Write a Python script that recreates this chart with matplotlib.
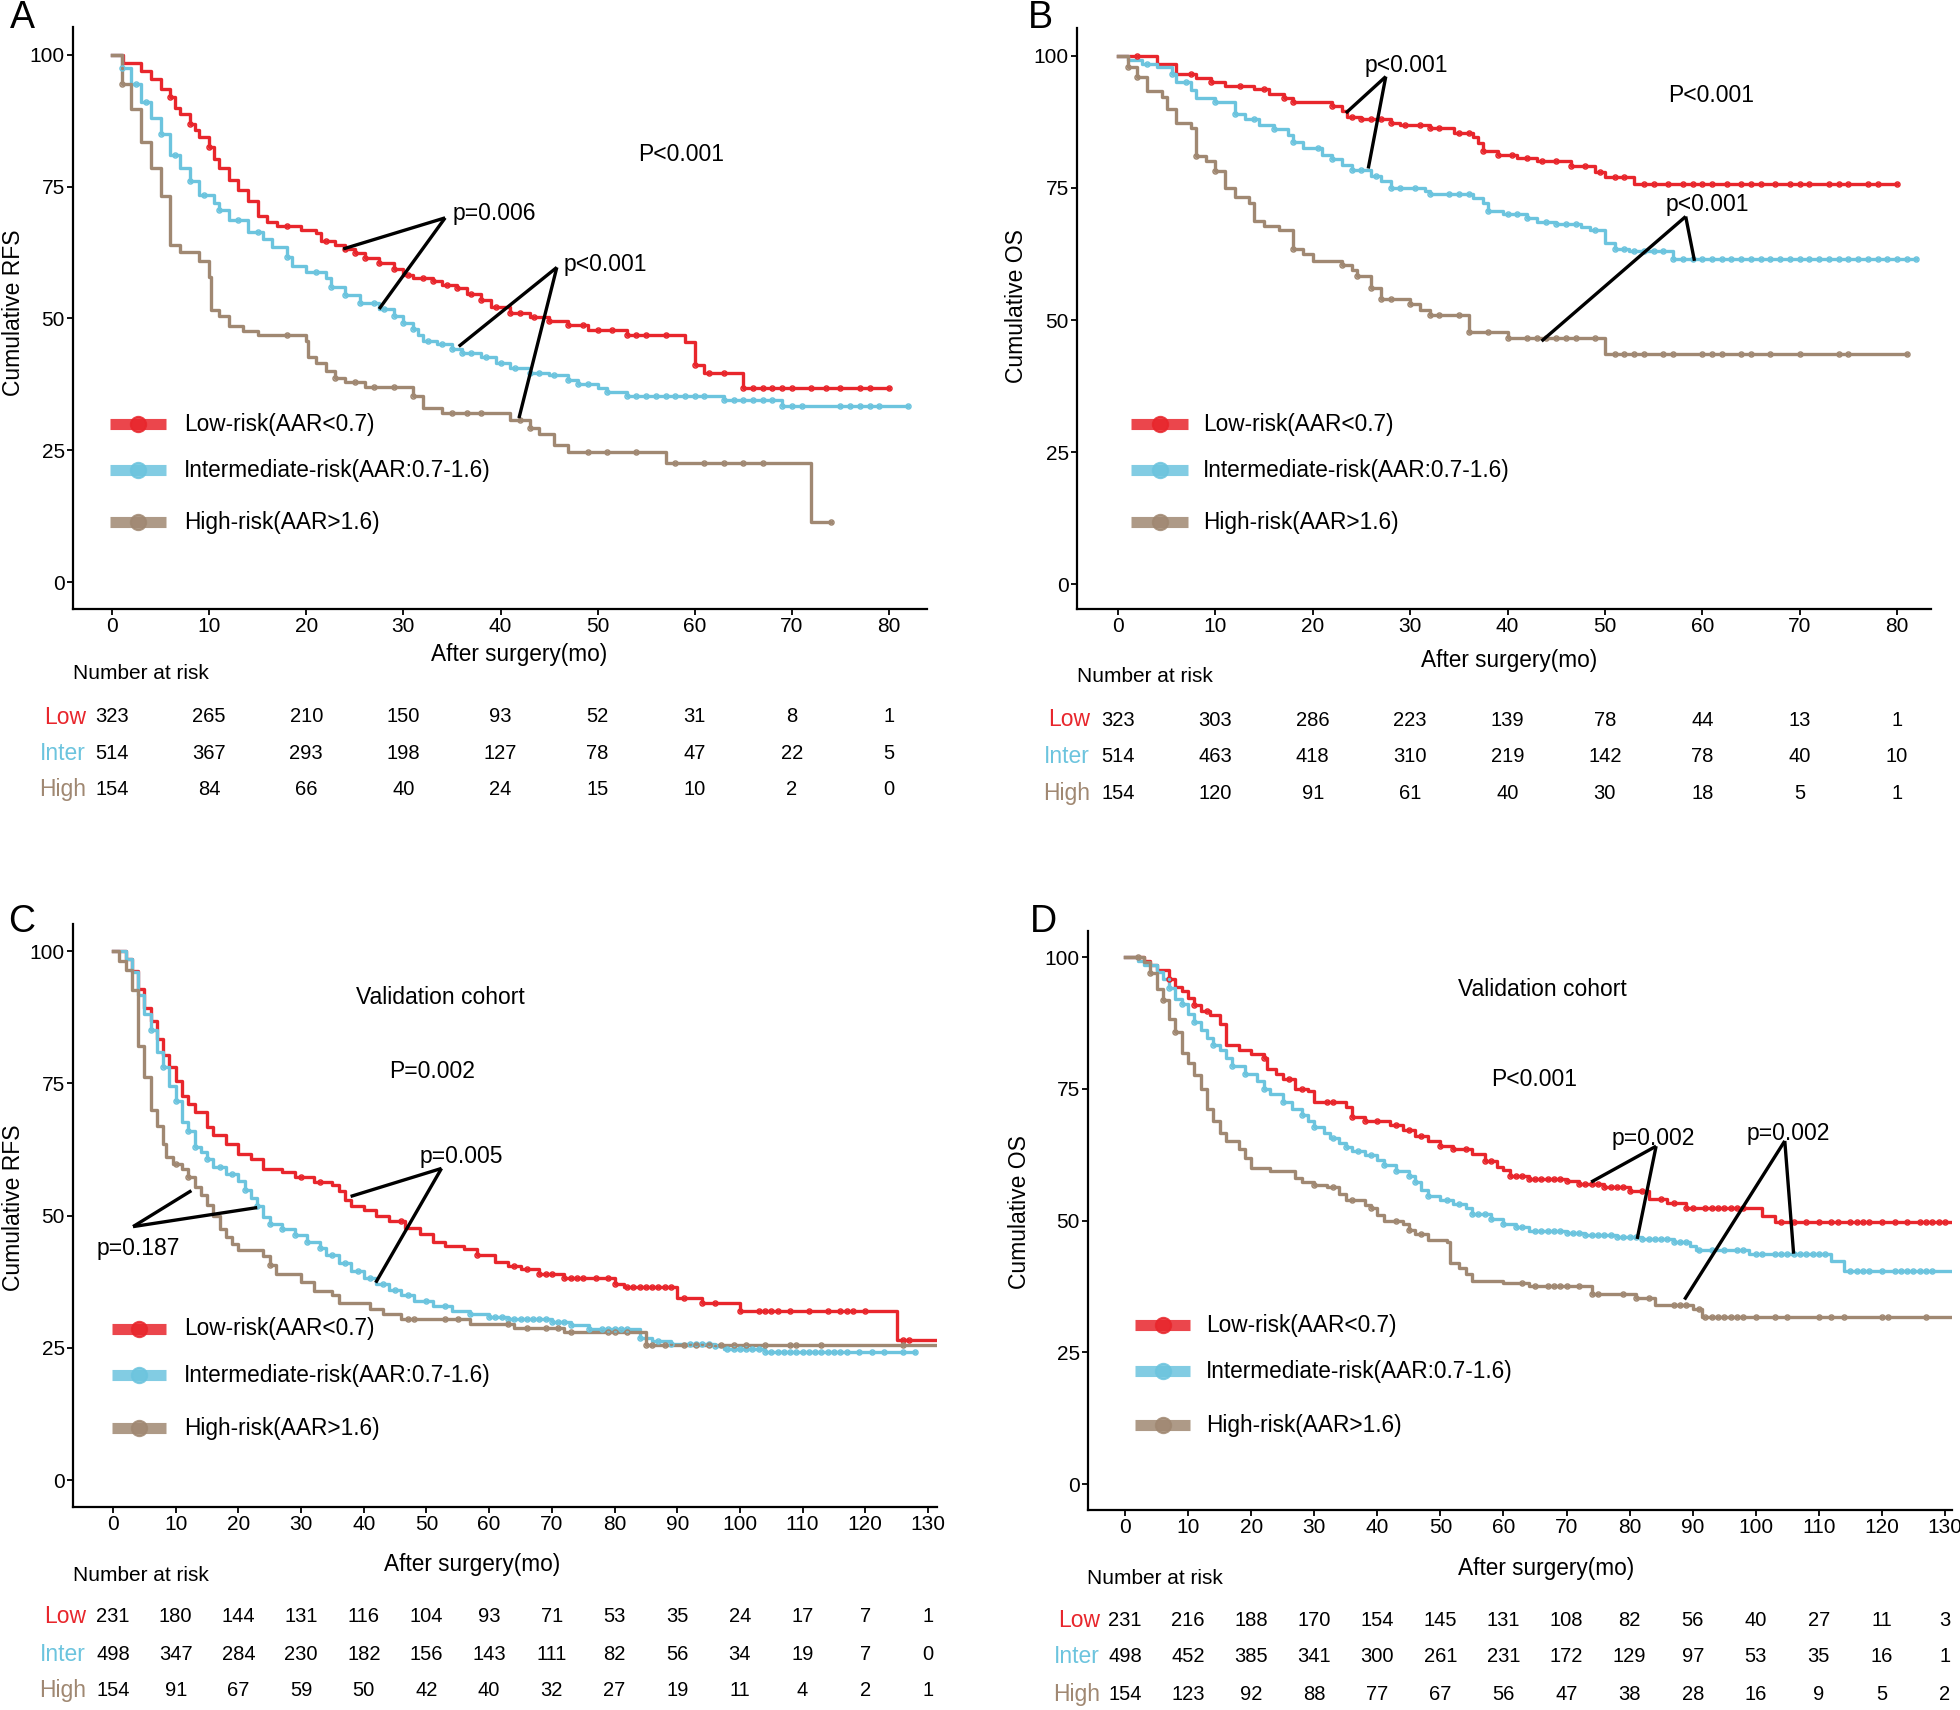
import numpy as np
import matplotlib
matplotlib.use('Agg')
import matplotlib.pyplot as plt
import matplotlib.transforms as mtransforms
from matplotlib.lines import Line2D

plt.rcParams['font.family'] = ['Liberation Sans', 'DejaVu Sans']

# ---------------- data ----------------
groups = ['Low', 'Inter', 'High']
legend_labels = ['Low-risk(AAR<0.7)', 'Intermediate-risk(AAR:0.7-1.6)', 'High-risk(AAR>1.6)']

# Panel A: RFS, training cohort
A_low_t = [0, 1.1, 3, 4, 5, 6, 6.5, 7, 8, 8.5, 9, 10, 10.5, 11, 12, 13, 14, 15, 16, 17, 19.5, 21, 21.5, 23, 24, 25, 26, 27.5, 29, 30,
           31, 33, 34, 35.5, 36.5, 38, 39, 41, 43, 45, 47, 49, 53, 59, 60, 61, 65]
A_low_s = [100, 98.5, 97, 95.5, 93.5, 92, 90, 88.8, 87, 85.7, 84.5, 82.5, 80.3, 78.6, 76.2, 74.3, 72.3, 69.5, 68.3, 67.6,
           66.8, 66.2, 64.8, 64, 63.2, 62.4, 61.4, 60.5, 59.3, 58.3, 57.7, 57.2, 56.4, 55.7, 54.6, 53.5, 52.2, 51, 50.2, 49.6,
           48.7, 47.9, 46.9, 45.5, 41.2, 39.6, 36.9]
A_low_end = 80
A_low_cens = [6, 8, 10, 18, 22, 24, 25, 26, 27.5, 29, 30.5, 32, 33, 34.5, 35.5, 37, 38, 39.5, 41, 42, 43.5, 45, 47, 48.5, 50,
              51.5, 53, 54, 55, 57, 60, 61.5, 63, 65, 66, 67, 68, 69, 70, 72, 73.5, 75, 77, 78, 80]
A_int_t = [0, 1, 2, 3, 4, 5, 6, 7, 8, 9, 10.5, 11, 12, 14, 15.5, 16.5, 18, 18.5, 20, 22, 22.5, 24, 25.5, 27.5, 29, 30, 31,
           31.5, 32, 33.5, 35, 36, 38, 39.5, 41, 43, 45, 47, 48, 50, 51, 53, 63, 69]
A_int_s = [100, 97.5, 94.5, 91, 88, 85, 81, 78.5, 76, 73.5, 72, 70.5, 68.7, 66.5, 65, 63.5, 61.7, 60, 58.8, 57.6, 56, 54.5, 53,
           51.8, 50.5, 49.2, 48, 46.8, 45.8, 45.2, 44.3, 43.4, 42.6, 41.6, 40.6, 39.7, 39.2, 38.4, 37.6, 36.9, 36.1, 35.3, 34.6, 33.4]
A_int_end = 82
A_int_cens = [1, 2.5, 3.5, 5, 6.5, 8, 9.5, 11, 13, 15, 18, 21, 22.5, 24, 25.5, 27, 28, 29, 30, 31, 32.5, 34, 35, 36, 37, 38.5,
              40, 41.5, 43, 44, 45.5, 47, 48, 49, 51, 53, 54, 55, 56, 57, 58, 59, 60, 61, 63, 64, 65, 66, 67, 68, 69, 70,
              71, 75, 76, 77, 78, 79, 82]
A_high_t = [0, 1, 2, 3, 4, 5, 6, 7, 9, 10, 10.2, 11, 12, 13.5, 15, 20, 20.2, 21, 22, 23, 24, 26, 31, 32, 34, 41, 43, 44, 45.5,
            47, 57, 72]
A_high_s = [100, 94.5, 89.8, 83.5, 78.5, 73.2, 64, 62.6, 61, 57.8, 51.7, 50.4, 48.5, 47.6, 46.8, 45.8, 42.6, 41.5, 40, 38.8,
            37.9, 37, 35.2, 33.1, 32, 30.8, 29.3, 28, 26, 24.6, 22.5, 11.3]
A_high_end = 74
A_high_cens = [1, 18, 23, 25, 27, 29, 31, 35, 36.5, 38, 42, 43, 49, 51, 54, 58, 61, 63, 65, 67, 74]

# Panel B: OS, training cohort
B_low_t = [0, 4, 6, 8, 9.5, 11, 14, 15.5, 17, 18, 22, 23, 23.5, 25, 28, 29, 32, 34.5, 36.5, 37, 37.5, 39, 41, 43, 46.5, 49,
           50, 53]
B_low_s = [100, 98.5, 96.5, 95.8, 95, 94.3, 93.7, 92.8, 92, 91.3, 90.5, 89.5, 88.4, 88, 87.4, 86.9, 86.4, 85.5, 84.7, 83.5,
           82, 81.3, 80.6, 80.2, 79.2, 78, 77, 75.8]
B_low_end = 80
B_low_cens = [2, 7.5, 9.5, 12.5, 15, 17, 18, 22, 24, 25, 26, 27, 28, 29.5, 31, 32, 33, 35, 36, 37.5, 39, 40.5, 42, 43.5, 45,
              46.5, 48, 49.5, 51, 52, 54, 55, 56.5, 58, 59, 60, 61, 62.5, 64, 65, 66, 67.5, 69, 70, 71, 73, 74, 75, 77, 78, 80]
B_int_t = [0, 1, 2.5, 4, 5.5, 6, 7.5, 8, 10, 12, 13, 14.5, 16, 17.5, 18, 19, 21, 22, 23, 24, 26, 27, 28, 31.5, 32, 36.5,
           37.5, 38, 39.5, 42, 43, 45, 47.5, 48.5, 50, 51, 52.5, 57]
B_int_s = [100, 99.3, 98.5, 97.9, 96.5, 95, 93.6, 92, 91.3, 89, 88, 87, 86.2, 85, 83.7, 82.6, 81.3, 80.5, 79.4, 78.4, 77.3,
           76.3, 75, 74.4, 73.8, 73.2, 72.2, 70.6, 70, 69.3, 68.6, 68.2, 67.7, 67.1, 64.5, 63.5, 63.1, 61.6]
B_int_end = 82
B_int_cens = [3, 5.5, 7, 10, 12, 14, 16, 18, 20.5, 22, 24, 25, 26.5, 28, 29, 30.5, 32, 34, 35, 36, 38, 40, 41, 42, 44, 45,
              46, 47, 49, 51, 52, 53, 54, 55, 56, 57, 58, 59, 60, 61, 62, 63, 64, 65, 66, 67, 68, 69, 70, 71, 72, 73, 74, 75,
              76, 77, 78, 79, 80, 81, 82]
B_high_t = [0, 1, 2, 3, 4.5, 5, 6, 7.5, 8, 9, 10, 11, 12, 13.5, 14, 15, 16.5, 18, 19, 20, 23, 24, 24.5, 26, 27, 30, 31, 32,
            36, 40, 50]
B_high_s = [100, 98, 96, 93.4, 92.2, 90, 87.3, 86.3, 81, 80.1, 78.2, 75, 73.3, 72.2, 68.7, 67.8, 67.1, 63.4, 62.5, 61.2,
            60.4, 59.4, 58.4, 56.1, 54, 53, 51.8, 51, 47.8, 46.5, 43.5]
B_high_end = 81
B_high_cens = [1, 2, 8, 10, 18, 23, 24.5, 26, 27, 28, 30, 32, 33, 35, 36, 38, 40, 42, 43, 44, 45, 46, 47, 49, 51, 52, 53, 54,
               56, 57, 60, 61, 62, 64, 65, 67, 70, 74, 75, 81]

# Panel C: RFS, validation cohort
C_low_t = [0, 2, 3, 4, 5, 6, 7, 8, 9, 10, 11, 12, 13, 15, 16, 18, 20, 22, 24, 27, 29, 32, 35, 36, 37, 38, 40, 42, 44, 46.5,
           49, 51, 53, 56, 58, 61, 63, 65, 68, 72, 80, 81.5, 90, 94, 100, 125]
C_low_s = [100, 98.4, 96.3, 92.9, 89.2, 86.8, 83.3, 80.4, 78, 75.5, 72.5, 71.1, 69.6, 66.7, 65.3, 63.5, 61.6, 60.6, 58.7,
           58.2, 57.2, 56.4, 55.7, 54.7, 53, 51.8, 51, 50, 48.9, 47.7, 46.5, 45, 44.3, 43.6, 42.6, 41.2, 40.5, 39.9, 39, 38.1,
           37.1, 36.5, 34.4, 33.4, 31.9, 26.5]
C_low_end = 131.5
C_low_cens = [30, 33, 46, 58, 64, 66, 68, 69, 70, 72, 73, 74, 75, 77, 79, 80, 82, 83, 84, 85, 86, 87, 88, 89, 91, 94, 96,
              100, 103, 104, 105, 106, 108, 111, 114, 116, 117, 118, 120, 126, 127]
C_int_t = [0, 2, 3, 4, 5, 6, 7, 8, 9, 10, 11, 12, 13, 14, 15, 16, 18, 20, 21, 22, 23, 24, 25, 27, 29, 31, 33, 34, 36, 38, 40,
           42, 44, 46, 48, 51, 54, 57, 60, 63, 70, 73, 76, 84, 86, 89, 96, 97.5, 104]
C_int_s = [100, 98.5, 96, 91.7, 88, 85, 81, 78, 74.5, 71.6, 67.6, 65.9, 63, 62, 60.6, 59.1, 57.9, 56.5, 54.9, 53.3, 51.8,
           49.8, 48.4, 47.4, 46.4, 44.9, 43.9, 42.5, 41, 39.6, 38.2, 37, 36, 35, 33.8, 32.8, 32, 31.4, 30.8, 30.4, 29.8, 29.3,
           28.5, 26.9, 26.2, 25.7, 25.3, 24.8, 24.2]
C_int_end = 128
C_int_cens = [6, 8, 10, 12, 13, 15, 17, 19, 21, 23, 25, 27, 29, 31, 33, 35, 37, 39, 41, 43, 45, 47, 50, 53, 57, 60, 61, 62,
              63, 64, 65, 66, 67, 68, 69, 70, 71, 72, 73, 76, 78, 79, 80, 81, 82, 84, 87, 89, 92, 93, 94, 95, 96, 98, 99, 100,
              101, 102, 103, 104, 105, 106, 107, 108, 109, 110, 111, 112, 113, 114, 115, 116, 117, 119, 121, 123, 126, 128]
C_high_t = [0, 1, 2, 3, 4, 5, 6, 7, 8, 8.5, 9.5, 11, 12, 13, 14, 15, 16, 17, 18, 19, 20, 24, 25, 26, 30, 32, 35, 36, 41, 43,
            46, 57, 64, 72, 85]
C_high_s = [100, 98.2, 96.5, 92.7, 82.1, 76.2, 70, 67, 63.5, 61.1, 59.7, 58.7, 57.3, 55.3, 53.8, 52, 49.9, 47.4, 45.9, 44.7,
            43.5, 42.3, 40.6, 38.9, 37.4, 35.7, 35, 33.4, 32.3, 31.3, 30.5, 29.5, 28.8, 28, 25.6]
C_high_end = 131.5
C_high_cens = [10, 12, 25, 47, 48, 53, 55, 63, 66, 69, 71, 73, 79, 80, 82, 85, 86, 88, 91, 93, 95, 97, 99, 101, 104, 108,
               109, 113, 126]

# Panel D: OS, validation cohort
D_low_t = [0, 3, 4, 5, 7, 8, 9, 10, 11, 12, 13.5, 15, 16, 18, 20, 22, 22.5, 24, 25, 27, 29, 30, 35, 36, 38, 42, 44, 46, 48,
           50, 52, 55, 57, 59, 60, 61, 64, 70, 72, 76, 80, 83, 86, 89, 101, 103]
D_low_s = [100, 99.3, 98.5, 97.6, 95.8, 94.3, 93.5, 92.3, 90.8, 89.8, 89, 87.2, 83.3, 82.3, 81.6, 80.8, 78.8, 77.8, 76.9, 75,
           74.5, 72.5, 71.5, 69.7, 68.8, 68.1, 67.1, 66.1, 65.1, 64.1, 63.5, 62.7, 61.2, 60.2, 59.5, 58.5, 57.9, 57.5, 57,
           56.3, 55.6, 54, 53.3, 52.4, 50.9, 49.7]
D_low_end = 132
D_low_cens = [7, 11, 13, 22, 26, 28, 32, 33, 36, 38, 40, 43, 45, 47, 50, 52, 54, 57, 58, 61, 62, 63, 64, 65, 66, 67, 68, 69,
              70, 72, 73, 74, 75, 76, 77, 78, 79, 80, 82, 85, 87, 89, 90, 92, 93, 94, 95, 96, 97, 98, 104, 106, 108, 110, 112,
              113, 115, 116, 117, 118, 120, 122, 124, 126, 127, 128, 129, 130]
D_int_t = [0, 2, 3, 5, 6, 7, 8, 9, 10, 11, 12, 13, 14, 15, 16, 17, 19, 21, 22, 23, 25, 26.5, 28, 29, 30, 31.5, 32.5, 34, 35,
           36, 38, 40, 41, 43, 45, 46, 47, 48, 50, 52, 54, 55, 58, 60, 62, 64, 70, 73, 78, 82, 87, 89.5, 90.5, 99, 112, 114]
D_int_s = [100, 99.2, 98.5, 97.1, 95.9, 94.1, 92.1, 91, 89.2, 87.7, 86.2, 84.7, 83.3, 82.3, 80.8, 79.4, 77.8, 76.4, 75, 74,
           72.5, 71.2, 70, 68.8, 67.8, 66.6, 65.6, 64.8, 63.9, 63.2, 62.5, 61.5, 60.5, 59.4, 58.5, 57.3, 55.8, 54.6, 53.8,
           53.1, 52.3, 51.3, 50.3, 49.3, 48.7, 48.1, 47.7, 47.2, 46.8, 46.4, 45.9, 45.1, 44.4, 43.7, 42.4, 40.4]
D_int_end = 132
D_int_cens = [7, 9, 11, 14, 17, 19, 22, 25, 28, 30, 33, 35, 37, 39, 41, 43, 45, 46, 48, 51, 53, 55, 56, 57, 58, 60, 62, 63,
              65, 66, 67, 68, 69, 70, 71, 72, 73, 74, 75, 76, 77, 78, 79, 80, 81, 82, 83, 84, 85, 86, 87, 88, 89, 91, 93, 95,
              97, 98, 100, 101, 103, 104, 105, 106, 107, 108, 109, 110, 111, 115, 116, 117, 118, 120, 122, 123, 124, 125,
              126, 127, 128]
D_high_t = [0, 3, 4, 5, 6, 7, 8, 9, 10, 11, 12, 13, 14, 15, 16, 18, 19, 20, 23, 27, 28, 30, 32, 34, 35, 38, 39, 40, 41, 44,
            45, 46, 48, 51, 51.5, 53, 54, 55, 60, 64, 74, 81, 84, 90, 91.5]
D_high_s = [100, 99, 97, 94, 91.8, 88.2, 85.8, 81.8, 79.9, 77.6, 75, 71.1, 68.8, 66.6, 65.1, 63.6, 61.9, 59.9, 59.3, 58,
            57.3, 56.8, 56.3, 55.1, 53.8, 53, 52.4, 51.1, 49.9, 49.4, 48.2, 47.4, 46.3, 46, 42, 40.9, 39.9, 38.6, 38.1, 37.6,
            36, 35.2, 34, 33.2, 31.7]
D_high_end = 132
D_high_cens = [2, 4, 6, 8, 30, 33, 36, 39, 43, 45, 47, 63, 65, 67, 68, 69, 70, 72, 74, 75, 79, 81, 83, 87, 88, 89, 91, 92,
               93, 94, 95, 96, 97, 98, 100, 103, 105, 110, 112, 114, 120, 121, 127]

# numbers at risk
A_risk = [[323, 265, 210, 150, 93, 52, 31, 8, 1],
          [514, 367, 293, 198, 127, 78, 47, 22, 5],
          [154, 84, 66, 40, 24, 15, 10, 2, 0]]
B_risk = [[323, 303, 286, 223, 139, 78, 44, 13, 1],
          [514, 463, 418, 310, 219, 142, 78, 40, 10],
          [154, 120, 91, 61, 40, 30, 18, 5, 1]]
C_risk = [[231, 180, 144, 131, 116, 104, 93, 71, 53, 35, 24, 17, 7, 1],
          [498, 347, 284, 230, 182, 156, 143, 111, 82, 56, 34, 19, 7, 0],
          [154, 91, 67, 59, 50, 42, 40, 32, 27, 19, 11, 4, 2, 1]]
D_risk = [[231, 216, 188, 170, 154, 145, 131, 108, 82, 56, 40, 27, 11, 3],
          [498, 452, 385, 341, 300, 261, 231, 172, 129, 97, 53, 35, 16, 1],
          [154, 123, 92, 88, 77, 67, 56, 47, 38, 28, 16, 9, 5, 2]]
ticks_80 = list(range(0, 81, 10))
ticks_130 = list(range(0, 131, 10))

# annotation texts: (text, x, y, ha) and bracket lines: (apex, [ends])
A_texts = [('P<0.001', 58.6, 81.2, 'center'), ('p=0.006', 35.1, 70, 'left'), ('p<0.001', 46.5, 60.2, 'left')]
A_brackets = [((34.3, 69.1), [(23.8, 63.2), (27.5, 51.8)]), ((45.8, 59.7), [(35.7, 44.7), (41.9, 31.1)])]
B_texts = [('P<0.001', 60.9, 92.5, 'center'), ('p<0.001', 25.3, 98.2, 'left'), ('p<0.001', 56.2, 71.8, 'left')]
B_brackets = [((27.5, 96.1), [(23.4, 89.2), (25.7, 78.7)]), ((58.3, 69.6), [(43.5, 46), (59.2, 61.2)])]
C_texts = [('Validation cohort', 52.2, 91.2, 'center'), ('P=0.002', 50.9, 77.2, 'center'),
           ('p=0.005', 48.9, 61.1, 'left'), ('p=0.187', -2.7, 43.8, 'left')]
C_brackets = [((52.4, 58.9), [(37.9, 53.6), (41.9, 37.3)]), ((3.2, 47.9), [(12.5, 54.7), (23, 51.5)])]
D_texts = [('Validation cohort', 66.1, 93.9, 'center'), ('P<0.001', 64.9, 76.7, 'center'),
           ('p=0.002', 77.2, 65.6, 'left'), ('p=0.002', 98.6, 66.6, 'left')]
D_brackets = [((84.2, 64.1), [(73.9, 57.3), (81.2, 46.5)]), ((104.6, 65.1), [(88.7, 35), (106, 43.7)])]

# ---------------- styling / layout ----------------
colors = ['#E8262C', '#6CC4DE', '#A08872']
W, H = 1960, 1710
fig = plt.figure(figsize=(W / 100, H / 100), dpi=100)


def fx(px):
    return px / W


def fy(py):
    return 1 - py / H


def make_axes(box, xref, yref):
    # box = (left, top, right, bottom) px; xref = (px at 0, px at tmax, tmax); yref = (px at 100, px at 0)
    l, t, r, b = box
    x0, x1, tmax = xref
    ppx = (x1 - x0) / tmax
    y100, y0 = yref
    ppy = (y0 - y100) / 100
    ax = fig.add_axes([fx(l), fy(b), (r - l) / W, (b - t) / H])
    ax.set_xlim((l - x0) / ppx, (r - x0) / ppx)
    ax.set_ylim(-(b - y0) / ppy, 100 + (y100 - t) / ppy)
    for s in ['top', 'right']:
        ax.spines[s].set_visible(False)
    for s in ['left', 'bottom']:
        ax.spines[s].set_linewidth(1.6)
    ax.tick_params(length=4, width=1.3, labelsize=15, pad=2)
    ax.set_yticks([0, 25, 50, 75, 100])
    return ax


def km(ax, t, s, end, cens, c):
    t = np.asarray(t, float)
    s = np.asarray(s, float)
    ax.step(np.append(t, end), np.append(s, s[-1]), where='post', color=c, lw=2.4, zorder=3)
    cens = np.asarray(cens, float)
    idx = np.searchsorted(t, cens, side='right') - 1
    ax.plot(cens, s[idx], 'o', ms=3.6, mfc='none', mec=c, mew=1.1, zorder=4)


def annotate(ax, texts, brackets):
    for txt, x, y, ha in texts:
        ax.text(x, y, txt, fontsize=16.5, ha=ha, va='center', zorder=6)
    for apex, ends in brackets:
        for e in ends:
            ax.plot([apex[0], e[0]], [apex[1], e[1]], color='black', lw=2.4, solid_capstyle='butt', zorder=5)


def legend(hx, hy, tx):
    for i in range(3):
        y = fy(hy[i])
        fig.add_artist(Line2D([fx(hx[0]), fx(hx[1])], [y, y], transform=fig.transFigure, color=colors[i],
                              lw=8, alpha=0.85, solid_capstyle='butt'))
        fig.add_artist(Line2D([fx((hx[0] + hx[1]) / 2)], [y], transform=fig.transFigure, marker='o', ms=11,
                              color=colors[i], mec=colors[i], mfc=colors[i], mew=1.5, alpha=0.85))
        fig.text(fx(tx), y, legend_labels[i], fontsize=16.3, va='center', ha='left')


def risk_table(ax, ticks, risk, title_xy, rows_y, lab_right):
    trans = mtransforms.blended_transform_factory(ax.transData, fig.transFigure)
    fig.text(fx(title_xy[0]), fy(title_xy[1]), 'Number at risk', fontsize=15, va='center', ha='left')
    for i in range(3):
        fig.text(fx(lab_right), fy(rows_y[i]), groups[i], fontsize=16.5, color=colors[i], va='center', ha='right')
        for tk, n in zip(ticks, risk[i]):
            ax.text(tk, fy(rows_y[i]), str(n), transform=trans, fontsize=14.5, va='center', ha='center')


panels = [
    dict(letter='A', letter_xy=(10, 0), box=(73, 27, 927, 609), xref=(112, 889, 80), yref=(55, 582),
         curves=[(A_low_t, A_low_s, A_low_end, A_low_cens), (A_int_t, A_int_s, A_int_end, A_int_cens),
                 (A_high_t, A_high_s, A_high_end, A_high_cens)],
         ticks=ticks_80, ylabel='Cumulative RFS', ylab_xy=(14, 313), xlab_xy=(519, 655),
         texts=A_texts, brackets=A_brackets, leg=((110, 166), (424, 470, 522), 184),
         risk=A_risk, nar=(73, 673), rows=(717, 753, 789), labr=86),
    dict(letter='B', letter_xy=(1028, 0), box=(1077, 28, 1931, 609), xref=(1118, 1897, 80), yref=(56, 584),
         curves=[(B_low_t, B_low_s, B_low_end, B_low_cens), (B_int_t, B_int_s, B_int_end, B_int_cens),
                 (B_high_t, B_high_s, B_high_end, B_high_cens)],
         ticks=ticks_80, ylabel='Cumulative OS', ylab_xy=(1016, 306), xlab_xy=(1509, 660),
         texts=B_texts, brackets=B_brackets, leg=((1131, 1188), (424, 470, 522), 1203),
         risk=B_risk, nar=(1077, 677), rows=(720, 756, 793), labr=1090),
    dict(letter='C', letter_xy=(8, 904), box=(73, 924, 937, 1507), xref=(113, 928, 130), yref=(951, 1480),
         curves=[(C_low_t, C_low_s, C_low_end, C_low_cens), (C_int_t, C_int_s, C_int_end, C_int_cens),
                 (C_high_t, C_high_s, C_high_end, C_high_cens)],
         ticks=ticks_130, ylabel='Cumulative RFS', ylab_xy=(14, 1208), xlab_xy=(472, 1564),
         texts=C_texts, brackets=C_brackets, leg=((112, 166), (1329, 1375, 1428), 184),
         risk=C_risk, nar=(73, 1575), rows=(1616, 1654, 1690), labr=86),
    dict(letter='D', letter_xy=(1030, 904), box=(1088, 931, 1952, 1510), xref=(1125, 1945, 130), yref=(957, 1484),
         curves=[(D_low_t, D_low_s, D_low_end, D_low_cens), (D_int_t, D_int_s, D_int_end, D_int_cens),
                 (D_high_t, D_high_s, D_high_end, D_high_cens)],
         ticks=ticks_130, ylabel='Cumulative OS', ylab_xy=(1019, 1212), xlab_xy=(1546, 1568),
         texts=D_texts, brackets=D_brackets, leg=((1135, 1190), (1325, 1371, 1425), 1206),
         risk=D_risk, nar=(1087, 1578), rows=(1620, 1656, 1694), labr=1100),
]

for p in panels:
    ax = make_axes(p['box'], p['xref'], p['yref'])
    for i, (t, s, end, cens) in enumerate(p['curves']):
        km(ax, t, s, end, cens, colors[i])
    ax.set_xticks(p['ticks'])
    annotate(ax, p['texts'], p['brackets'])
    fig.text(fx(p['letter_xy'][0]), fy(p['letter_xy'][1]), p['letter'], fontsize=27, va='top', ha='left')
    fig.text(fx(p['ylab_xy'][0]), fy(p['ylab_xy'][1]), p['ylabel'], fontsize=16.5, rotation=90, va='center', ha='center')
    fig.text(fx(p['xlab_xy'][0]), fy(p['xlab_xy'][1]), 'After surgery(mo)', fontsize=16.3, va='center', ha='center')
    legend(*p['leg'])
    risk_table(ax, p['ticks'], p['risk'], p['nar'], p['rows'], p['labr'])

fig.savefig('out.png', dpi=100)
